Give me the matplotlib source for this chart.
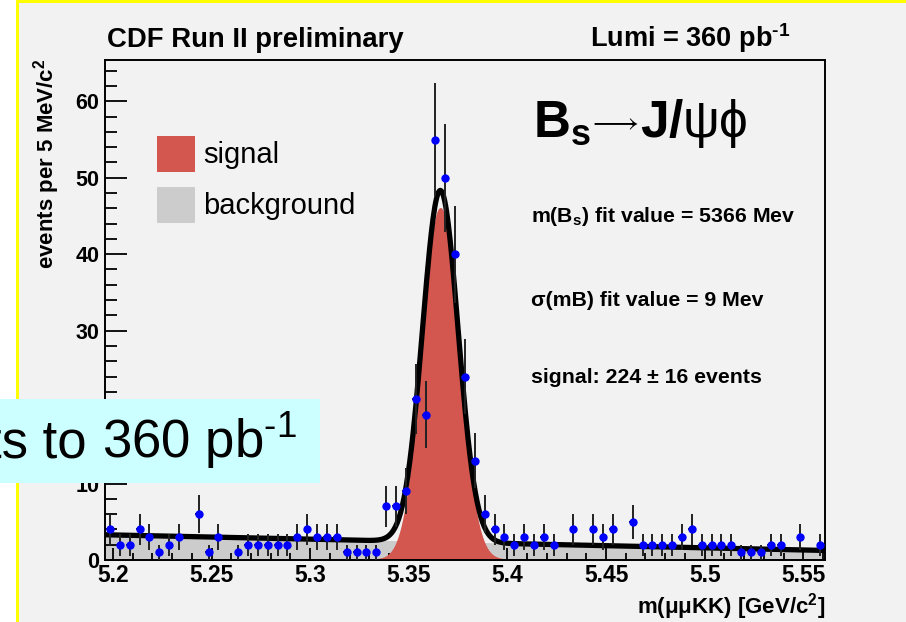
import numpy as np
import matplotlib
matplotlib.use("Agg")
import matplotlib.pyplot as plt
from matplotlib.patches import Rectangle

plt.rcParams['font.family'] = ['Liberation Sans', 'DejaVu Sans']
plt.rcParams['mathtext.fontset'] = 'custom'
plt.rcParams['mathtext.rm'] = 'Liberation Sans'
plt.rcParams['mathtext.bf'] = 'Liberation Sans:bold'
plt.rcParams['mathtext.it'] = 'Liberation Sans:italic'

# histogram: 5 MeV bins starting at 5.196 GeV/c^2
bin_lo = 5.196
bin_w = 0.005
counts = [4, 2, 2, 4, 3, 1, 2, 3, 0, 6, 1, 3, 0, 1, 2, 2, 2, 2, 2, 3,
          4, 3, 3, 3, 1, 1, 1, 1, 7, 7, 9, 21, 19, 55, 50, 40, 24, 13, 6, 4,
          3, 2, 3, 2, 3, 2, 0, 4, 0, 4, 3, 4, 0, 5, 2, 2, 2, 2, 3, 4,
          2, 2, 2, 2, 1, 1, 1, 2, 2, 0, 3, 0, 2]

# fit result
fit_mean = 5.366
fit_sigma = 0.009
fit_peak = 46.0
bkg_left, bkg_right = 3.3, 1.25

xmin, xmax = 5.196, 5.561
ymin, ymax = 0, 65.4

counts = np.array(counts, dtype=float)
centers = bin_lo + bin_w * (np.arange(len(counts)) + 0.5)
shown = counts > 0

xf = np.linspace(xmin, xmax, 800)
bkg = bkg_left + (bkg_right - bkg_left) * (xf - xmin) / (xmax - xmin)
sig = fit_peak * np.exp(-0.5 * ((xf - fit_mean) / fit_sigma) ** 2)

red = "#d4574f"
grey = "#cccccc"
bg = "#f2f2f2"

fig = plt.figure(figsize=(9.06, 6.22), dpi=100, facecolor=bg)
ax = fig.add_axes([105/906, 62/622, 720/906, 500/622], facecolor=bg)

ax.fill_between(xf, 0, bkg, facecolor=grey, edgecolor="none", zorder=1)
ax.fill_between(xf, 0, sig, facecolor=red, edgecolor=red, lw=1.2, zorder=2)
ax.plot(xf, bkg + sig, color="black", lw=3.8, zorder=3)
ax.errorbar(centers[shown], counts[shown], yerr=np.sqrt(counts[shown]),
            xerr=0.0018, fmt="o", color="blue", ms=5, ecolor="#222222",
            elinewidth=1.4, capsize=0, zorder=4)

ax.set_xlim(xmin, xmax)
ax.set_ylim(ymin, ymax)
ax.set_xticks(np.arange(5.2, 5.56, 0.05))
ax.set_xticklabels(["5.2", "5.25", "5.3", "5.35", "5.4", "5.45", "5.5", "5.55"])
ax.set_xticks(np.arange(5.2, 5.561, 0.01), minor=True)
ax.set_yticks(np.arange(0, 61, 10))
ax.set_yticks(np.arange(0, 65, 2), minor=True)
ax.tick_params(axis="both", which="both", direction="in", top=False, right=False,
               width=1.3, color="black")
ax.tick_params(axis="y", which="major", length=16, labelsize=15.5, pad=4)
ax.tick_params(axis="y", which="minor", length=8.5)
ax.tick_params(axis="x", which="major", length=9, labelsize=16.5, pad=3)
ax.tick_params(axis="x", which="minor", length=5)
for lab in ax.get_xticklabels() + ax.get_yticklabels():
    lab.set_fontweight("bold")
for s in ax.spines.values():
    s.set_linewidth(1.4)

# axis titles
fig.text(825/906, 1 - 613/622, r"m(μμKK) [GeV/c$^{\mathbf{2}}$]", ha="right",
         va="baseline", fontsize=16, fontweight="bold")
fig.text(47/906, 1 - 58/622, r"events per 5 MeV/c$^{\mathbf{2}}$", ha="center",
         va="top", rotation=90, fontsize=16, fontweight="bold")

# header
fig.text(107/906, 1 - 47/622, "CDF Run II preliminary", ha="left",
         va="baseline", fontsize=19.8, fontweight="bold")
fig.text(590/906, 1 - 47/622, r"Lumi = 360 pb$^{\mathbf{‐1}}$", ha="left",
         va="baseline", fontsize=19.5, fontweight="bold")

# decay label, pieced together so the arrow keeps its short length
fig.text(533/906, 1 - 137/622, r"$\mathbf{B_s}$", ha="left", va="baseline",
         fontsize=37)
fig.text(588/906, 1 - 122/622, r"$\longrightarrow$", ha="left", va="center",
         fontsize=21)
fig.text(640/906, 1 - 137/622, r"$\mathbf{J/}\mathrm{\psi\phi}$", ha="left",
         va="baseline", fontsize=37)

fig.text(531/906, 1 - 222/622, r"m(B$_{\mathbf{s}}$) fit value = 5366 Mev",
         ha="left", va="baseline", fontsize=15.3, fontweight="bold")
fig.text(531/906, 1 - 306/622, "σ(mB) fit value = 9 Mev",
         ha="left", va="baseline", fontsize=15.3, fontweight="bold")
fig.text(531/906, 1 - 383/622, "signal: 224 ± 16 events",
         ha="left", va="baseline", fontsize=15.3, fontweight="bold")

# legend
fig.patches.append(Rectangle((157/906, 1 - 172/622), 38/906, 36/622,
                             transform=fig.transFigure, facecolor=red,
                             edgecolor="none", zorder=5))
fig.patches.append(Rectangle((157/906, 1 - 223/622), 38/906, 36/622,
                             transform=fig.transFigure, facecolor=grey,
                             edgecolor="none", zorder=5))
fig.text(203/906, 1 - 155/622, "signal", ha="left", va="center", fontsize=21)
fig.text(203/906, 1 - 206/622, "background", ha="left", va="center", fontsize=21)

# slide frame: white margin, yellow border
fig.patches.append(Rectangle((0, 0), 16/906, 1, transform=fig.transFigure,
                             facecolor="white", edgecolor="none", zorder=6))
fig.patches.append(Rectangle((16/906, 0), 2.5/906, 1, transform=fig.transFigure,
                             facecolor="#ffff00", edgecolor="none", zorder=7))
fig.patches.append(Rectangle((16/906, 1 - 3/622), 1, 3/622, transform=fig.transFigure,
                             facecolor="#ffff00", edgecolor="none", zorder=7))

# overlapping slide caption box
fig.patches.append(Rectangle((0, 1 - 483/622), 320/906, 84/622,
                             transform=fig.transFigure, facecolor="#ccffff",
                             edgecolor="none", zorder=8))
fig.text(87/906, 1 - 458/622, "ts to", ha="right", va="baseline",
         fontsize=38, zorder=9)
fig.text(102/906, 1 - 458/622, r"360 pb$^{\text{-1}}$", ha="left",
         va="baseline", fontsize=38, zorder=9)

fig.savefig("out.png", dpi=100, facecolor=bg)
